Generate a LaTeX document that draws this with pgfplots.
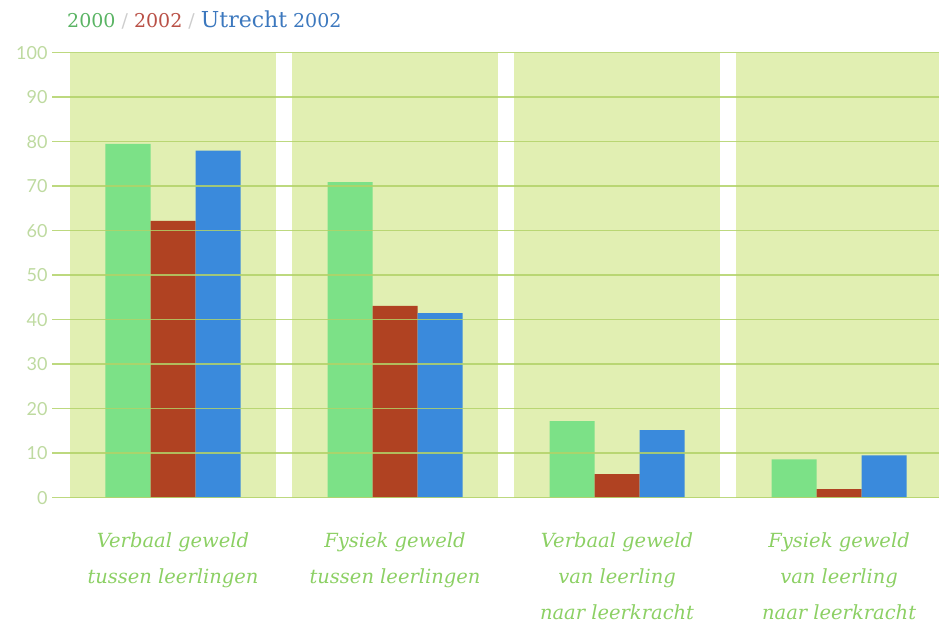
\documentclass[border=0pt]{standalone}
\usepackage{pgfplots}
\pgfplotsset{compat=1.18}
\usepackage{fontspec}
\setmainfont{DejaVu Serif}
\newfontfamily\tickfont{Lato}
\definecolor{panel}{RGB}{225,239,178}
\definecolor{cgreen}{RGB}{124,225,135}
\definecolor{cred}{RGB}{176,66,34}
\definecolor{cblue}{RGB}{58,138,220}
\definecolor{gridc}{RGB}{178,210,104}
\definecolor{tickc}{RGB}{190,218,160}
\definecolor{catc}{RGB}{140,208,100}
\definecolor{leggreen}{RGB}{90,180,100}
\definecolor{legred}{RGB}{185,80,70}
\definecolor{legblue}{RGB}{60,120,190}
\definecolor{slashc}{RGB}{205,205,205}
\begin{document}
\begin{tikzpicture}
\useasboundingbox (0,0) rectangle (939pt,624pt);
\begin{axis}[
  at={(52pt,126.3pt)}, anchor=south west, scale only axis,
  width=887pt, height=445pt,
  xmin=-0.545, xmax=3.45, ymin=0, ymax=100,
  ytick={0,10,...,100}, xtick={0,1,2,3},
  xticklabels={{Verbaal geweld\\tussen leerlingen},{Fysiek geweld\\tussen leerlingen},{Verbaal geweld\\van leerling\\naar leerkracht},{Fysiek geweld\\van leerling\\naar leerkracht}},
  xticklabel style={align=center, font=\fontsize{19.5}{36}\selectfont\itshape, text=catc, yshift=-31pt},
  yticklabel style={font=\tickfont\fontsize{18}{20}\selectfont, text=tickc, xshift=-1pt},
  /pgf/number format/assume math mode=true,
  major tick length=0pt,
  axis line style={draw=none},
  ymajorgrids, grid style={gridc, line width=1.5pt, opacity=0.85},
  axis on top,
  ybar, bar width=0.2027,
]
\fill[panel] (axis cs:-0.464,0) rectangle (axis cs:0.464,100);
\fill[panel] (axis cs:0.536,0) rectangle (axis cs:1.464,100);
\fill[panel] (axis cs:1.536,0) rectangle (axis cs:2.464,100);
\fill[panel] (axis cs:2.536,0) rectangle (axis cs:3.464,100);
\addplot[fill=cgreen, draw=none, bar shift=-0.2027] coordinates {(0,79.5)(1,70.9)(2,17.2)(3,8.6)};
\addplot[fill=cred, draw=none, bar shift=0] coordinates {(0,62.2)(1,43.1)(2,5.3)(3,1.9)};
\addplot[fill=cblue, draw=none, bar shift=0.2027] coordinates {(0,78.0)(1,41.5)(2,15.2)(3,9.5)};
\end{axis}
\node[anchor=west, inner sep=0pt] at (67pt,604pt) {\fontsize{19}{21}\selectfont\textcolor{leggreen}{2000} \textcolor{slashc}{/} \textcolor{legred}{2002} \textcolor{slashc}{/} \textcolor{legblue}{{\fontsize{22}{24}\selectfont Utrecht} 2002}};
\end{tikzpicture}
\end{document}
